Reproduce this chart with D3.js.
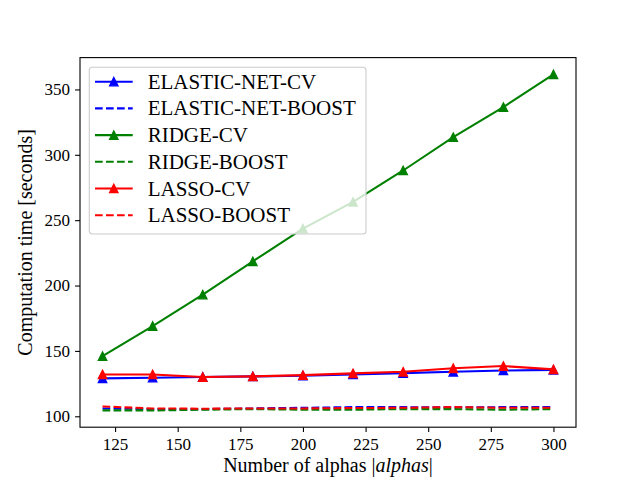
<!DOCTYPE html>
<html>
<head>
<meta charset="utf-8">
<script src="https://cdn.jsdelivr.net/npm/d3@7"></script>
<style>
  html, body { margin:0; padding:0; background:#fff; }
</style>
</head>
<body>
<svg id="chart" width="640" height="480"></svg>
<script>
'use strict';
// number of alphas on the x axis
const alphas = [120, 140, 160, 180, 200, 220, 240, 260, 280, 300];
// computation time in seconds
const elasticCv    = [129, 129.5, 130, 130.5, 131, 132, 133, 134, 135, 135.5];
const elasticBoost = [106, 105.5, 105.5, 106, 106.5, 107, 107, 106.8, 107, 107];
const ridgeCv      = [146, 169, 193, 218.5, 243.5, 264, 288, 313.5, 336.5, 361.5];
const ridgeBoost   = [104.5, 104.5, 105, 105.5, 105, 105, 105.5, 105.5, 105, 105.5];
const lassoCv      = [132, 132, 130, 130.5, 131.5, 132.8, 134, 136.7, 138.4, 135.9];
const lassoBoost   = [107.5, 106, 105.8, 106, 106, 106.3, 106.5, 107, 106.5, 106.5];
const xTicks = [125, 150, 175, 200, 225, 250, 275, 300];
const yTicks = [100, 150, 200, 250, 300, 350];

const series = [
  { name:'ELASTIC-NET-CV',    values:elasticCv,    color:'#0000ff', dashed:false },
  { name:'ELASTIC-NET-BOOST', values:elasticBoost, color:'#0000ff', dashed:true },
  { name:'RIDGE-CV',          values:ridgeCv,      color:'#008000', dashed:false },
  { name:'RIDGE-BOOST',       values:ridgeBoost,   color:'#008000', dashed:true },
  { name:'LASSO-CV',          values:lassoCv,      color:'#ff0000', dashed:false },
  { name:'LASSO-BOOST',       values:lassoBoost,   color:'#ff0000', dashed:true }
];

const FONT = "'Liberation Serif', 'Times New Roman', Times, 'DejaVu Serif', serif";
const svg = d3.select('#chart');
const L = 80, R = 576, T = 57.6, B = 427.2;

// matplotlib style 5% margins
function padded(lo, hi) { const m = (hi - lo) * 0.05; return [lo - m, hi + m]; }
const xExt = d3.extent(alphas);
const allY = series.flatMap(s => s.values);
const x = d3.scaleLinear().domain(padded(xExt[0], xExt[1])).range([L, R]);
const y = d3.scaleLinear().domain(padded(d3.min(allY), d3.max(allY))).range([B, T]);

const line = vals => d3.line().x((d,i) => x(alphas[i])).y(d => y(d))(vals);
const tri = h => `M0,${-h}L${h},${h}L${-h},${h}Z`;

const plot = svg.append('g');
series.forEach(s => {
  plot.append('path').attr('d', line(s.values)).attr('fill','none')
    .attr('stroke', s.color).attr('stroke-width', 2.08)
    .attr('stroke-dasharray', s.dashed ? '7.7,3.3' : null)
    .attr('stroke-linejoin','round');
  if (!s.dashed) {
    plot.selectAll(null).data(s.values).join('path')
      .attr('d', tri(4.15))
      .attr('transform', (d,i) => `translate(${x(alphas[i])},${y(d)})`)
      .attr('fill', s.color).attr('stroke', s.color).attr('stroke-width', 1.39)
      .attr('stroke-linejoin','miter');
  }
});

// axes
const xAxis = svg.append('g').attr('transform', `translate(0,${B})`)
  .call(d3.axisBottom(x).tickValues(xTicks).tickSize(4.9).tickPadding(5).tickFormat(d3.format('d')));
const yAxis = svg.append('g').attr('transform', `translate(${L},0)`)
  .call(d3.axisLeft(y).tickValues(yTicks).tickSize(4.9).tickPadding(5).tickFormat(d3.format('d')));
[xAxis, yAxis].forEach(a => {
  a.attr('font-family', FONT).attr('font-size', 17);
  a.select('.domain').remove();
  a.selectAll('line').attr('stroke','#000').attr('stroke-width',1.1);
  a.selectAll('text').style('font-family', FONT).style('font-size','17px').attr('fill','#000');
});
xAxis.selectAll('text').attr('dy', null).attr('y', 23);
yAxis.selectAll('text').attr('dy', '0.32em');
svg.append('rect').attr('x', L).attr('y', T).attr('width', R - L).attr('height', B - T)
  .attr('fill','none').attr('stroke','#000').attr('stroke-width',1.1);

// axis labels
const xl = svg.append('text').attr('x', (L + R) / 2).attr('y', 472)
  .attr('text-anchor','middle').style('font-family', FONT).style('font-size','20px');
xl.append('tspan').text('Number of alphas |');
xl.append('tspan').attr('font-style','italic').text('alphas');
xl.append('tspan').text('|');
svg.append('text').attr('transform', `translate(32,${(T + B) / 2}) rotate(-90)`)
  .attr('text-anchor','middle').style('font-family', FONT).style('font-size','20px')
  .text('Computation time [seconds]');

// legend
const lg = svg.append('g');
lg.append('rect').attr('x', 89.3).attr('y', 67.3).attr('width', 276.7).attr('height', 166.7)
  .attr('rx', 3).attr('fill','#fff').attr('fill-opacity',0.8)
  .attr('stroke','#cccccc').attr('stroke-width',1.1);
series.forEach((s, i) => {
  const cy = 81.7 + i * 26.7;
  lg.append('line').attr('x1', 95).attr('x2', 132.7).attr('y1', cy).attr('y2', cy)
    .attr('stroke', s.color).attr('stroke-width', 2.08)
    .attr('stroke-dasharray', s.dashed ? '7.7,3.3' : null);
  if (!s.dashed) {
    lg.append('path').attr('d', tri(4.15)).attr('transform', `translate(113.8,${cy})`)
      .attr('fill', s.color).attr('stroke', s.color).attr('stroke-width', 1.39);
  }
  lg.append('text').attr('x', 147.7).attr('y', cy + 7)
    .style('font-family', FONT).style('font-size','21px').text(s.name);
});
</script>
</body>
</html>
